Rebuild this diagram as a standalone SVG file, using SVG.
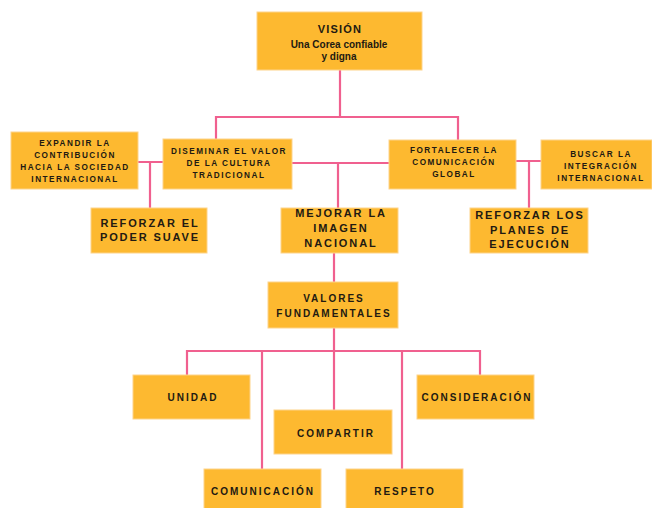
<svg xmlns="http://www.w3.org/2000/svg" width="652" height="508" viewBox="0 0 652 508">
<style>
.box{fill:#FDB930;stroke:#FDD38A;stroke-width:1}
.ln{fill:none;stroke:#F0608F;stroke-width:2.2}
text{font-family:"Liberation Sans",Arial,sans-serif;font-weight:bold;fill:#221a12;text-anchor:middle}
.s{font-size:8.2px;letter-spacing:1.5px}
.m{font-size:10px;letter-spacing:2px}
.l{font-size:11px;letter-spacing:1.9px}
</style>
<rect width="652" height="508" fill="#ffffff"/>
<g id="connectors">
<path class="ln" d="M340 70V117M216 139V117H458V140"/>
<path class="ln" d="M138 162H163M150 162V208"/>
<path class="ln" d="M292 163H389M338 163V208"/>
<path class="ln" d="M516 161H541M529 161V208"/>
<path class="ln" d="M334 253V282"/>
<path class="ln" d="M334 328V351M187 375V351H480V375M262 351V469M334 351V410M402 351V469"/>
</g>
<g id="vision"><rect class="box" x="257" y="12" width="165" height="58"/>
<text x="340" y="33" style="font-size:11px;letter-spacing:1.2px">VISIÓN</text>
<text x="339" y="48" style="font-size:10px">Una Corea confiable</text>
<text x="339" y="60" style="font-size:10px">y digna</text></g>
<g id="expandir"><rect class="box" x="11" y="132" width="127" height="57"/>
<text class="s" x="75" y="146">EXPANDIR LA</text>
<text class="s" x="75" y="158">CONTRIBUCIÓN</text>
<text class="s" x="75" y="170">HACIA LA SOCIEDAD</text>
<text class="s" x="75" y="182">INTERNACIONAL</text></g>
<g id="diseminar"><rect class="box" x="163" y="139" width="129" height="50"/>
<text class="s" x="229" y="154">DISEMINAR EL VALOR</text>
<text class="s" x="229" y="166">DE LA CULTURA</text>
<text class="s" x="229" y="178">TRADICIONAL</text></g>
<g id="fortalecer"><rect class="box" x="389" y="140" width="127" height="49"/>
<text class="s" x="454" y="153">FORTALECER LA</text>
<text class="s" x="454" y="165">COMUNICACIÓN</text>
<text class="s" x="454" y="177">GLOBAL</text></g>
<g id="buscar"><rect class="box" x="541" y="140" width="111" height="49"/>
<text class="s" x="601" y="157">BUSCAR LA</text>
<text class="s" x="601" y="169">INTEGRACIÓN</text>
<text class="s" x="601" y="181">INTERNACIONAL</text></g>
<g id="poder"><rect class="box" x="91" y="208" width="116" height="45"/>
<text class="l" x="150" y="227">REFORZAR EL</text>
<text class="l" x="150" y="241">PODER SUAVE</text></g>
<g id="mejorar"><rect class="box" x="281" y="208" width="117" height="45"/>
<text class="l" x="341" y="217">MEJORAR LA</text>
<text class="l" x="341" y="232">IMAGEN</text>
<text class="l" x="341" y="247">NACIONAL</text></g>
<g id="planes"><rect class="box" x="470" y="208" width="118" height="45"/>
<text class="l" x="530" y="219">REFORZAR LOS</text>
<text class="l" x="530" y="234">PLANES DE</text>
<text class="l" x="530" y="248">EJECUCIÓN</text></g>
<g id="valores"><rect class="box" x="268" y="282" width="130" height="46"/>
<text class="m" x="334" y="302">VALORES</text>
<text class="m" x="334" y="317">FUNDAMENTALES</text></g>
<g id="unidad"><rect class="box" x="133" y="375" width="117" height="44"/>
<text class="m" x="193" y="401">UNIDAD</text></g>
<g id="consideracion"><rect class="box" x="417" y="375" width="117" height="44"/>
<text class="m" x="477" y="401">CONSIDERACIÓN</text></g>
<g id="compartir"><rect class="box" x="274" y="410" width="118" height="44"/>
<text class="m" x="336" y="437">COMPARTIR</text></g>
<g id="comunicacion"><rect class="box" x="204" y="469" width="117" height="40"/>
<text class="m" x="263" y="495">COMUNICACIÓN</text></g>
<g id="respeto"><rect class="box" x="346" y="469" width="117" height="40"/>
<text class="m" x="405" y="495">RESPETO</text></g>
</svg>
